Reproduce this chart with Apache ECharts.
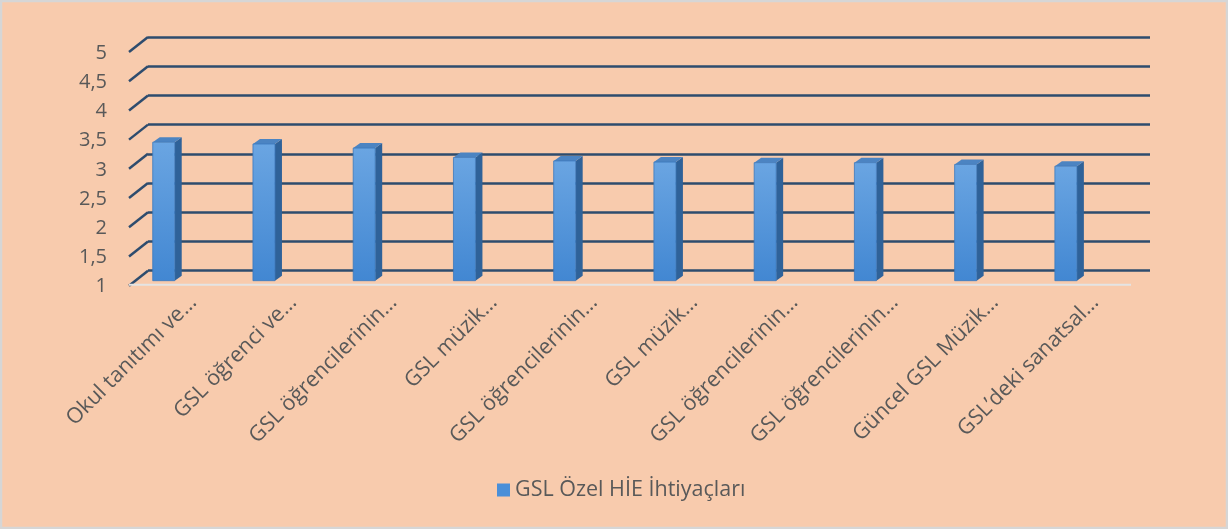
<!DOCTYPE html>
<html>
<head>
<meta charset="utf-8">
<script src="https://cdn.jsdelivr.net/npm/echarts@6/dist/echarts.min.js"></script>
<style>
  html, body { margin: 0; padding: 0; background: #F8CBAD; }
  #chart { width: 1228px; height: 529px; }
</style>
</head>
<body>
<div id="chart"></div>
<script>
// data
const categories = [
  'Okul tanıtımı ve…',
  'GSL öğrenci ve…',
  'GSL öğrencilerinin…',
  'GSL müzik…',
  'GSL öğrencilerinin…',
  'GSL müzik…',
  'GSL öğrencilerinin…',
  'GSL öğrencilerinin…',
  'Güncel GSL Müzik…',
  'GSL’deki sanatsal…'
]
const values = [3.37, 3.34, 3.27, 3.11, 3.05, 3.03, 3.02, 3.02, 2.99, 2.96]
const yTicks = [1, 1.5, 2, 2.5, 3, 3.5, 4, 4.5, 5]
const seriesName = 'GSL Özel HİE İhtiyaçları'

const FONT = 'Open Sans'
const TEXT = '#595959'
const GRID_LINE = '#2E4C6E'

const chart = echarts.init(document.getElementById('chart'))

chart.setOption({
  backgroundColor: '#F8CBAD',
  animation: false,
  graphic: [{
    type: 'rect',
    shape: { x: 1, y: 1, width: 1226, height: 527 },
    style: { fill: 'none', stroke: '#D6D6D6', lineWidth: 2.5 },
    silent: true
  }],
  legend: {
    data: [seriesName],
    left: 492,
    top: 474,
    icon: 'rect',
    itemWidth: 13,
    itemHeight: 13,
    itemGap: 5,
    textStyle: { color: TEXT, fontFamily: FONT, fontSize: 21.5 }
  },
  grid: [
    // back wall (gridlines)
    { left: 148, right: 78, top: 37, height: 233.7 },
    // bars, slightly in front of the wall
    { left: 113.6, width: 1002.4, top: 47, height: 233.7 },
    // category labels along the front floor edge
    { left: 143, width: 1002.4, top: 51, height: 233 }
  ],
  xAxis: [
    { gridIndex: 0, type: 'value', min: 0, max: 1, show: false },
    { gridIndex: 1, type: 'category', data: categories, show: false },
    {
      gridIndex: 2,
      type: 'category',
      data: categories,
      axisLine: { show: false },
      axisTick: { show: false },
      axisLabel: {
        rotate: 45,
        interval: 0,
        margin: 15,
        color: TEXT,
        fontFamily: FONT,
        fontSize: 21.5
      }
    }
  ],
  yAxis: [
    {
      gridIndex: 0,
      type: 'value',
      min: 1,
      max: 5,
      interval: 0.5,
      axisLine: { show: false },
      axisTick: { show: false },
      axisLabel: { show: false },
      splitLine: { lineStyle: { color: GRID_LINE, width: 2.5 } }
    },
    { gridIndex: 1, type: 'value', min: 1, max: 5, show: false },
    { gridIndex: 2, type: 'value', min: 1, max: 5, show: false }
  ],
  series: [
    {
      // side wall: diagonal ticks, value labels and the front floor edge
      type: 'custom',
      xAxisIndex: 0,
      yAxisIndex: 0,
      silent: true,
      data: yTicks.map(v => [0, v]),
      renderItem(params, api) {
        const v = api.value(1)
        const p = api.coord([0, v])
        const children = [
          {
            type: 'line',
            shape: { x1: p[0], y1: p[1], x2: p[0] - 19, y2: p[1] + 15 },
            style: { stroke: GRID_LINE, lineWidth: 2.5 }
          },
          {
            type: 'text',
            x: p[0] - 41,
            y: p[1] + 16,
            style: {
              text: String(v).replace('.', ','),
              align: 'right',
              verticalAlign: 'middle',
              fill: TEXT,
              fontFamily: FONT,
              fontSize: 20
            }
          }
        ]
        if (params.dataIndex === 0) {
          const end = api.coord([1, v])
          children.push({
            type: 'line',
            shape: { x1: p[0] - 19, y1: p[1] + 14, x2: end[0] - 19, y2: end[1] + 14 },
            style: { stroke: '#E4E4E4', lineWidth: 2 }
          })
        }
        return { type: 'group', children }
      }
    },
    {
      name: seriesName,
      type: 'custom',
      xAxisIndex: 1,
      yAxisIndex: 1,
      itemStyle: { color: '#4A8FD8' },
      data: values.map((v, i) => [i, v]),
      renderItem(params, api) {
        const top = api.coord([api.value(0), api.value(1)])
        const base = api.coord([api.value(0), 1])
        const w = 22, dx = 7, dy = -5
        const x0 = top[0] - w / 2, x1 = top[0] + w / 2
        return {
          type: 'group',
          children: [
            {
              type: 'polygon',
              shape: { points: [[x1, top[1]], [x1 + dx, top[1] + dy], [x1 + dx, base[1] + dy], [x1, base[1]]] },
              style: { fill: '#2F6299' }
            },
            {
              type: 'polygon',
              shape: { points: [[x0, top[1]], [x0 + dx, top[1] + dy], [x1 + dx, top[1] + dy], [x1, top[1]]] },
              style: { fill: '#4C84C2' }
            },
            {
              type: 'rect',
              shape: { x: x0, y: top[1], width: w, height: base[1] - top[1] },
              style: {
                fill: new echarts.graphic.LinearGradient(0, 0, 0, 1, [
                  { offset: 0, color: '#6AA5E2' },
                  { offset: 1, color: '#4287D2' }
                ]),
                stroke: '#3B78BC',
                lineWidth: 0.8
              }
            }
          ]
        }
      }
    }
  ]
})
</script>
</body>
</html>
